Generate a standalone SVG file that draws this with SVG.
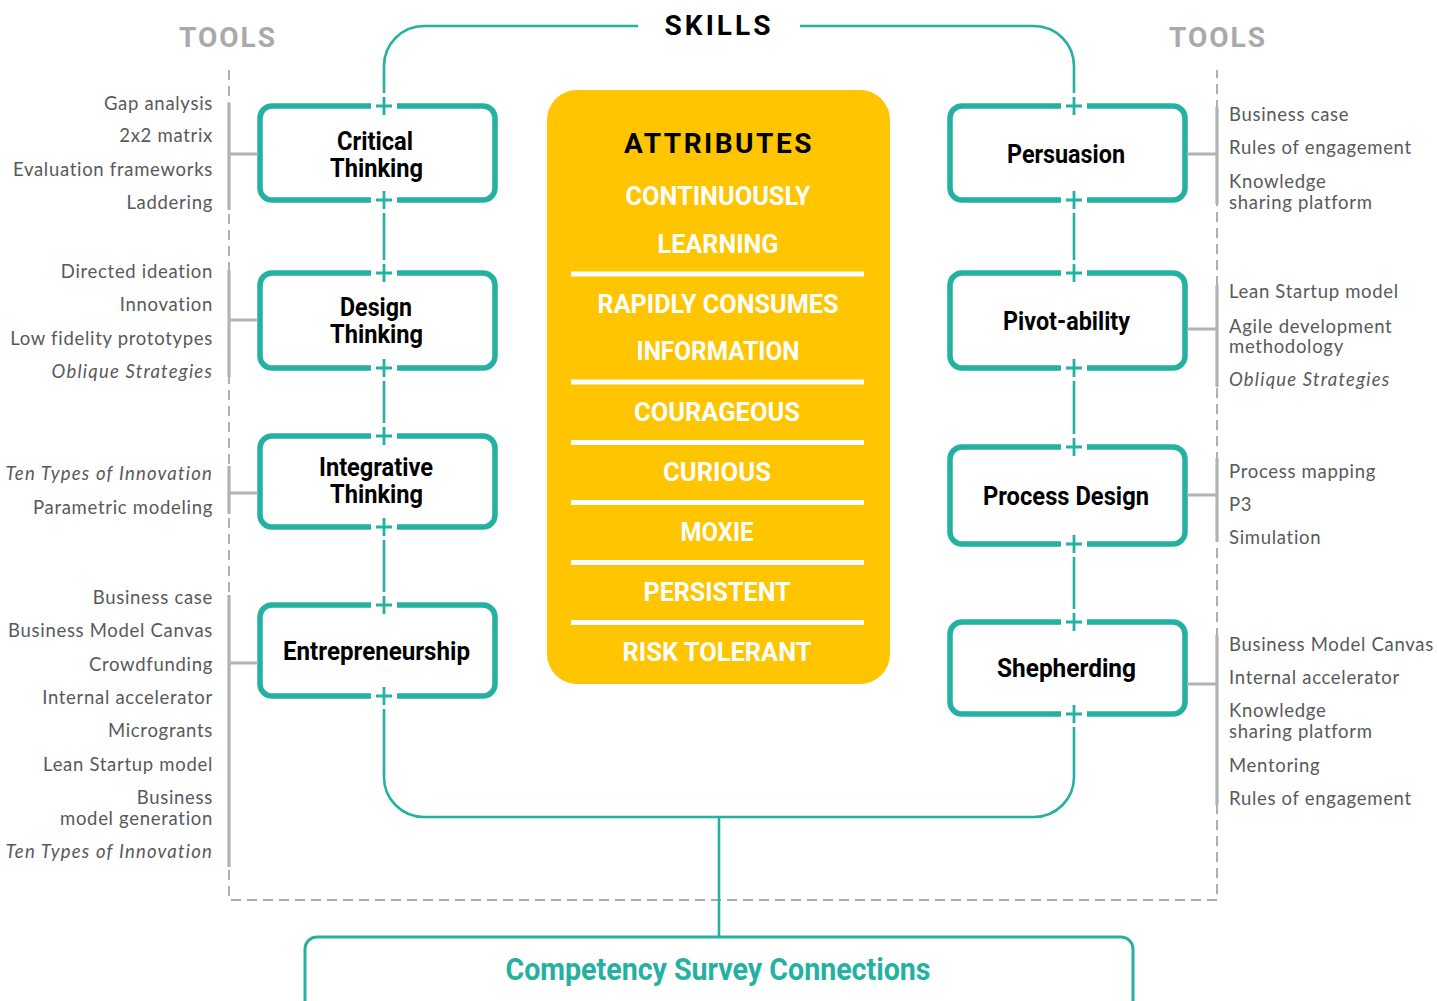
<svg xmlns="http://www.w3.org/2000/svg" xmlns:xlink="http://www.w3.org/1999/xlink" width="1437" height="1001" viewBox="0 0 1437 1001">
<style>
.box{fill:none;stroke:#25b1a2;stroke-width:5.5;stroke-linecap:butt}
.plus{fill:none;stroke:#25b1a2;stroke-width:2.8}
.conn{fill:none;stroke:#25b1a2;stroke-width:2.6}
.dash{fill:none;stroke:#8f8f8f;stroke-width:1.4;stroke-dasharray:10 6}
.brk{fill:none;stroke:#b2b2b2;stroke-width:3.2}
.skill{font-family:Roboto,"Liberation Sans",sans-serif;font-weight:700;font-size:25px;fill:#000;text-anchor:middle}
.attr{font-family:Roboto,"Liberation Sans",sans-serif;font-weight:700;font-size:25px;fill:#fff;text-anchor:middle}
.head{font-family:Roboto,"Liberation Sans",sans-serif;font-weight:700;font-size:28px;text-anchor:middle}
.tl{font-family:Lato,"Liberation Sans",sans-serif;font-size:18.5px;fill:#58595b;letter-spacing:0.7px;text-anchor:end}
.tr{font-family:Lato,"Liberation Sans",sans-serif;font-size:18.5px;fill:#58595b;letter-spacing:0.7px}
.it{font-style:italic;letter-spacing:1.2px}
.div{stroke:#fff;stroke-width:5}
</style>
<defs>
<path id="plus" d="M-8 0H8M0-9V9"/>
</defs>
<rect width="1437" height="1001" fill="#fff"/>

<g id="tools-frame">
<path class="dash" d="M229 70V900H1217V70"/>
<text class="head" x="228" y="47" fill="#a9a9a9" letter-spacing="2">TOOLS</text>
<text class="head" x="1218" y="47" fill="#a9a9a9" letter-spacing="2">TOOLS</text>
</g>

<g id="connectors">
<text class="head" x="719" y="35" fill="#000" letter-spacing="3">SKILLS</text>
<path class="conn" d="M384 93V66A40 40 0 0 1 424 26H638"/>
<path class="conn" d="M800 26H1034A40 40 0 0 1 1074 66V93"/>
<path class="conn" d="M384 213V260M384 381V423M384 540V592"/>
<path class="conn" d="M1074 213V260M1074 381V434M1074 557V609"/>
<path class="conn" d="M384 709V777A40 40 0 0 0 424 817H1034A40 40 0 0 0 1074 777V727"/>
<path class="conn" d="M719 817V937"/>
</g>

<g id="attributes">
<rect x="547" y="90" width="343" height="594" rx="30" fill="#fec500"/>
<text class="head" x="719" y="153" fill="#000" letter-spacing="2.5" font-size="29">ATTRIBUTES</text>
<text class="attr" x="718" y="205" textLength="185" lengthAdjust="spacingAndGlyphs">CONTINUOUSLY</text>
<text class="attr" x="718" y="253" textLength="121" lengthAdjust="spacingAndGlyphs">LEARNING</text>
<line class="div" x1="571" y1="274" x2="864" y2="274"/>
<text class="attr" x="718" y="313" textLength="241" lengthAdjust="spacingAndGlyphs">RAPIDLY CONSUMES</text>
<text class="attr" x="718" y="360" textLength="163" lengthAdjust="spacingAndGlyphs">INFORMATION</text>
<line class="div" x1="571" y1="382" x2="864" y2="382"/>
<text class="attr" x="717" y="421" textLength="166" lengthAdjust="spacingAndGlyphs">COURAGEOUS</text>
<line class="div" x1="571" y1="442.5" x2="864" y2="442.5"/>
<text class="attr" x="717" y="481" textLength="108" lengthAdjust="spacingAndGlyphs">CURIOUS</text>
<line class="div" x1="571" y1="502.5" x2="864" y2="502.5"/>
<text class="attr" x="717" y="541" textLength="73" lengthAdjust="spacingAndGlyphs">MOXIE</text>
<line class="div" x1="571" y1="562.5" x2="864" y2="562.5"/>
<text class="attr" x="717" y="601" textLength="147" lengthAdjust="spacingAndGlyphs">PERSISTENT</text>
<line class="div" x1="571" y1="622.5" x2="864" y2="622.5"/>
<text class="attr" x="717" y="661" textLength="189" lengthAdjust="spacingAndGlyphs">RISK TOLERANT</text>
</g>

<g id="critical-thinking">
<path class="box" d="M371 106H272A12 12 0 0 0 260 118V188A12 12 0 0 0 272 200H371M397 106H483A12 12 0 0 1 495 118V188A12 12 0 0 1 483 200H397"/>
<use href="#plus" xlink:href="#plus" x="384" y="106" class="plus"/>
<use href="#plus" xlink:href="#plus" x="384" y="200" class="plus"/>
<text class="skill" x="375" y="150" textLength="76" lengthAdjust="spacingAndGlyphs">Critical</text>
<text class="skill" x="376.5" y="177" textLength="93" lengthAdjust="spacingAndGlyphs">Thinking</text>
</g>

<g id="design-thinking">
<path class="box" d="M371 273H272A12 12 0 0 0 260 285V356A12 12 0 0 0 272 368H371M397 273H483A12 12 0 0 1 495 285V356A12 12 0 0 1 483 368H397"/>
<use href="#plus" xlink:href="#plus" x="384" y="273" class="plus"/>
<use href="#plus" xlink:href="#plus" x="384" y="368" class="plus"/>
<text class="skill" x="376" y="316" textLength="72" lengthAdjust="spacingAndGlyphs">Design</text>
<text class="skill" x="376.5" y="343" textLength="93" lengthAdjust="spacingAndGlyphs">Thinking</text>
</g>

<g id="integrative-thinking">
<path class="box" d="M371 436H272A12 12 0 0 0 260 448V515A12 12 0 0 0 272 527H371M397 436H483A12 12 0 0 1 495 448V515A12 12 0 0 1 483 527H397"/>
<use href="#plus" xlink:href="#plus" x="384" y="436" class="plus"/>
<use href="#plus" xlink:href="#plus" x="384" y="527" class="plus"/>
<text class="skill" x="376" y="476" textLength="114" lengthAdjust="spacingAndGlyphs">Integrative</text>
<text class="skill" x="376.5" y="503" textLength="93" lengthAdjust="spacingAndGlyphs">Thinking</text>
</g>

<g id="entrepreneurship">
<path class="box" d="M371 605H272A12 12 0 0 0 260 617V684A12 12 0 0 0 272 696H371M397 605H483A12 12 0 0 1 495 617V684A12 12 0 0 1 483 696H397"/>
<use href="#plus" xlink:href="#plus" x="384" y="605" class="plus"/>
<use href="#plus" xlink:href="#plus" x="384" y="696" class="plus"/>
<text class="skill" x="376.5" y="660" textLength="187" lengthAdjust="spacingAndGlyphs">Entrepreneurship</text>
</g>

<g id="persuasion">
<path class="box" d="M1061 106H962A12 12 0 0 0 950 118V188A12 12 0 0 0 962 200H1061M1087 106H1173A12 12 0 0 1 1185 118V188A12 12 0 0 1 1173 200H1087"/>
<use href="#plus" xlink:href="#plus" x="1074" y="106" class="plus"/>
<use href="#plus" xlink:href="#plus" x="1074" y="200" class="plus"/>
<text class="skill" x="1066" y="163" textLength="118" lengthAdjust="spacingAndGlyphs">Persuasion</text>
</g>

<g id="pivot-ability">
<path class="box" d="M1061 273H962A12 12 0 0 0 950 285V356A12 12 0 0 0 962 368H1061M1087 273H1173A12 12 0 0 1 1185 285V356A12 12 0 0 1 1173 368H1087"/>
<use href="#plus" xlink:href="#plus" x="1074" y="273" class="plus"/>
<use href="#plus" xlink:href="#plus" x="1074" y="368" class="plus"/>
<text class="skill" x="1066.5" y="330" textLength="127" lengthAdjust="spacingAndGlyphs">Pivot-ability</text>
</g>

<g id="process-design">
<path class="box" d="M1061 447H962A12 12 0 0 0 950 459V532A12 12 0 0 0 962 544H1061M1087 447H1173A12 12 0 0 1 1185 459V532A12 12 0 0 1 1173 544H1087"/>
<use href="#plus" xlink:href="#plus" x="1074" y="447" class="plus"/>
<use href="#plus" xlink:href="#plus" x="1074" y="544" class="plus"/>
<text class="skill" x="1066" y="505" textLength="166" lengthAdjust="spacingAndGlyphs">Process Design</text>
</g>

<g id="shepherding">
<path class="box" d="M1061 622H962A12 12 0 0 0 950 634V702A12 12 0 0 0 962 714H1061M1087 622H1173A12 12 0 0 1 1185 634V702A12 12 0 0 1 1173 714H1087"/>
<use href="#plus" xlink:href="#plus" x="1074" y="622" class="plus"/>
<use href="#plus" xlink:href="#plus" x="1074" y="714" class="plus"/>
<text class="skill" x="1066.5" y="677" textLength="139" lengthAdjust="spacingAndGlyphs">Shepherding</text>
</g>

<g id="tools-critical-thinking">
<path class="brk" d="M229 103V210M229 154H258"/>
<text class="tl" x="213" y="110">Gap analysis</text>
<text class="tl" x="213" y="142">2x2 matrix</text>
<text class="tl" x="213" y="176">Evaluation frameworks</text>
<text class="tl" x="213" y="209">Laddering</text>
</g>
<g id="tools-design-thinking">
<path class="brk" d="M229 270V377M229 320H258"/>
<text class="tl" x="213" y="278">Directed ideation</text>
<text class="tl" x="213" y="311">Innovation</text>
<text class="tl" x="213" y="345">Low fidelity prototypes</text>
<text class="tl it" x="213" y="378">Oblique Strategies</text>
</g>
<g id="tools-integrative-thinking">
<path class="brk" d="M229 466V514M229 493H258"/>
<text class="tl it" x="213" y="480">Ten Types of Innovation</text>
<text class="tl" x="213" y="514">Parametric modeling</text>
</g>
<g id="tools-entrepreneurship">
<path class="brk" d="M229 595V867M229 663H258"/>
<text class="tl" x="213" y="604">Business case</text>
<text class="tl" x="213" y="637">Business Model Canvas</text>
<text class="tl" x="213" y="671">Crowdfunding</text>
<text class="tl" x="213" y="704">Internal accelerator</text>
<text class="tl" x="213" y="737">Microgrants</text>
<text class="tl" x="213" y="771">Lean Startup model</text>
<text class="tl" x="213" y="804">Business</text>
<text class="tl" x="213" y="825">model generation</text>
<text class="tl it" x="213" y="858">Ten Types of Innovation</text>
</g>

<g id="tools-persuasion">
<path class="brk" d="M1217 107V204M1187 154H1217"/>
<text class="tr" x="1229" y="121">Business case</text>
<text class="tr" x="1229" y="154">Rules of engagement</text>
<text class="tr" x="1229" y="188">Knowledge</text>
<text class="tr" x="1229" y="209">sharing platform</text>
</g>
<g id="tools-pivot-ability">
<path class="brk" d="M1217 285V387M1187 329H1217"/>
<text class="tr" x="1229" y="298">Lean Startup model</text>
<text class="tr" x="1229" y="333">Agile development</text>
<text class="tr" x="1229" y="353">methodology</text>
<text class="tr it" x="1229" y="386">Oblique Strategies</text>
</g>
<g id="tools-process-design">
<path class="brk" d="M1217 458V542M1187 495H1217"/>
<text class="tr" x="1229" y="478">Process mapping</text>
<text class="tr" x="1229" y="511">P3</text>
<text class="tr" x="1229" y="544">Simulation</text>
</g>
<g id="tools-shepherding">
<path class="brk" d="M1217 635V805M1187 684H1217"/>
<text class="tr" x="1229" y="651">Business Model Canvas</text>
<text class="tr" x="1229" y="684">Internal accelerator</text>
<text class="tr" x="1229" y="717">Knowledge</text>
<text class="tr" x="1229" y="738">sharing platform</text>
<text class="tr" x="1229" y="772">Mentoring</text>
<text class="tr" x="1229" y="805">Rules of engagement</text>
</g>

<g id="competency-survey-connections">
<rect x="305" y="937" width="828" height="90" rx="12" fill="#fff" stroke="#25b1a2" stroke-width="3"/>
<text x="718" y="980" font-family="Roboto,'Liberation Sans',sans-serif" font-weight="700" font-size="31" fill="#25b1a2" text-anchor="middle" textLength="425" lengthAdjust="spacingAndGlyphs">Competency Survey Connections</text>
</g>
</svg>
